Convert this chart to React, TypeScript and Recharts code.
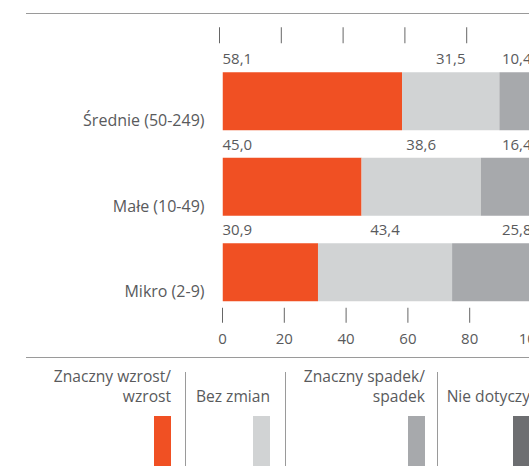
import React from 'react';
import { BarChart, Bar, XAxis, YAxis, LabelList, Legend } from 'recharts';

const categories = ['Średnie (50-249)', 'Małe (10-49)', 'Mikro (2-9)'];
const wzrost = [58.1, 45.0, 30.9];
const bezZmian = [31.5, 38.6, 43.4];
const spadek = [10.4, 16.4, 25.8];
const nieDotyczy = [0, 0, 0];
const xTicks = [0, 20, 40, 60, 80, 100];
const topTicks = [0, 20, 40, 60, 80];
const seriesNames = ['Znaczny wzrost/\nwzrost', 'Bez zmian', 'Znaczny spadek/\nspadek', 'Nie dotyczy'];
const seriesKeys = ['wzrost', 'bezZmian', 'spadek', 'nieDotyczy'];
const colors = ['#f05023', '#d1d3d4', '#a7a9ac', '#6d6e71'];

const data = categories.map((name, i) => ({
  name,
  wzrost: wzrost[i],
  bezZmian: bezZmian[i],
  spadek: spadek[i],
  nieDotyczy: nieDotyczy[i],
}));

const FONT = '"Open Sans", sans-serif';
const TEXT = '#595a5c';
const LINE = '#9a9a9a';

const fmt = (v: number) => v.toFixed(1).replace('.', ',');

const makeLabel = (align: 'start' | 'middle' | 'end') => (props: any) => {
  const { x, y, width, value } = props;
  if (!value) return null;
  let tx = x;
  if (align === 'middle') tx = x + width / 2;
  if (align === 'end') tx = x + width;
  return (
    <text x={tx} y={y - 8} textAnchor={align} fill={TEXT} fontSize={15} fontFamily={FONT}>
      {fmt(value)}
    </text>
  );
};

const BottomTick = (props: any) => {
  const { x, y, payload } = props;
  return (
    <g>
      <line x1={x} x2={x} y1={y - 7} y2={y + 8} stroke="#666" strokeWidth={1} />
      <text x={x} y={y + 29} textAnchor="middle" fill={TEXT} fontSize={15} fontFamily={FONT}>
        {payload.value}
      </text>
    </g>
  );
};

const TopTick = (props: any) => {
  const { x, y } = props;
  return <line x1={x - 3} x2={x - 3} y1={y - 31} y2={y - 15} stroke="#666" strokeWidth={1} />;
};

const CategoryTick = (props: any) => {
  const { x, y, payload } = props;
  return (
    <text x={x} y={y + 25} textAnchor="end" fill={TEXT} fontSize={16} fontFamily={FONT}>
      {payload.value}
    </text>
  );
};

const legendRight = [171, 270, 425, 530];

const LegendContent = () => (
  <div style={{ position: 'absolute', left: 0, top: 0, width: 529, height: 466, pointerEvents: 'none', fontFamily: FONT, color: TEXT, fontSize: 15.6 }}>
    <div style={{ position: 'absolute', left: 26, top: 13, width: 503, height: 1, background: LINE }} />
    <div style={{ position: 'absolute', left: 26, top: 357, width: 503, height: 1, background: LINE }} />
    {[185, 285, 437].map((sx) => (
      <div key={sx} style={{ position: 'absolute', left: sx, top: 372, width: 1, height: 94, background: LINE }} />
    ))}
    {seriesNames.map((nm, i) => {
      const lines = nm.split('\n');
      const padded = lines.length === 1 ? ['', lines[0]] : lines;
      return (
        <React.Fragment key={nm}>
          <div style={{ position: 'absolute', right: 529 - legendRight[i], top: 366, textAlign: 'right', lineHeight: '20px', whiteSpace: 'nowrap' }}>
            {padded.map((l, j) => (
              <div key={j} style={{ height: 20 }}>{l}</div>
            ))}
          </div>
          <div style={{ position: 'absolute', left: legendRight[i] - 17, top: 416, width: 17, height: 50, background: colors[i] }} />
        </React.Fragment>
      );
    })}
  </div>
);

export default function App() {
  return (
    <div style={{ position: 'absolute', left: 0, top: 0, width: 529, height: 466, overflow: 'hidden', background: '#fff' }}>
      <BarChart
        width={600}
        height={466}
        data={data}
        layout="vertical"
        margin={{ top: 0, right: 68.5, bottom: 111.25, left: 0 }}
        style={{ fontFamily: FONT }}
      >
        <XAxis
          type="number"
          xAxisId="top"
          orientation="top"
          domain={[0, 100]}
          allowDataOverflow
          ticks={topTicks}
          height={58.25}
          axisLine={false}
          tickLine={false}
          tickSize={0}
          tickMargin={0}
          tick={<TopTick />}
        />
        <XAxis
          type="number"
          domain={[0, 100]}
          allowDataOverflow
          ticks={xTicks}
          height={40}
          axisLine={false}
          tickLine={false}
          tickSize={0}
          tickMargin={0}
          tick={<BottomTick />}
          interval={0}
        />
        <YAxis
          type="category"
          dataKey="name"
          width={222.5}
          axisLine={false}
          tickLine={false}
          tickSize={0}
          tickMargin={18}
          tick={<CategoryTick />}
        />
        <Legend
          content={<LegendContent />}
          wrapperStyle={{ left: 0, top: 0, width: 0, height: 0, overflow: 'visible' }}
        />
        {seriesKeys.map((k, i) => (
          <Bar
            key={k}
            dataKey={k}
            name={seriesNames[i]}
            stackId="a"
            fill={colors[i]}
            barSize={58}
            isAnimationActive={false}
          >
            {i < 3 && (
              <LabelList dataKey={k} content={makeLabel(i === 0 ? 'start' : i === 1 ? 'middle' : 'end')} />
            )}
          </Bar>
        ))}
      </BarChart>
    </div>
  );
}
